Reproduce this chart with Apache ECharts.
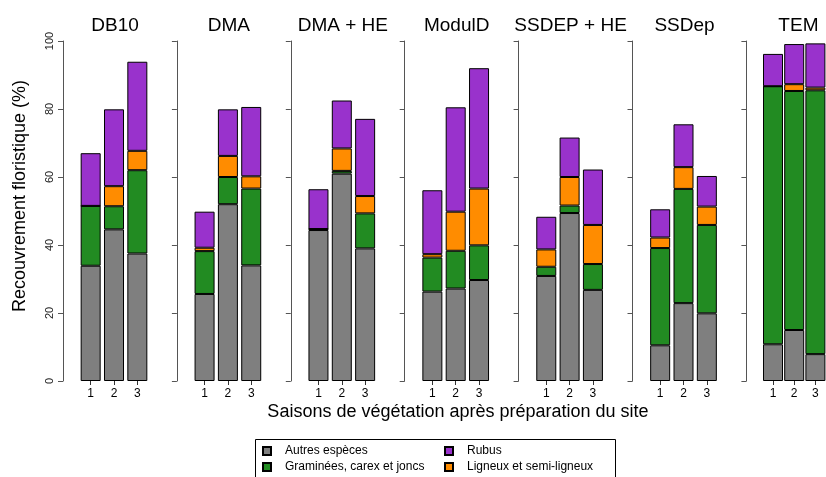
<!DOCTYPE html>
<html>
<head>
<meta charset="utf-8">
<script src="https://cdn.jsdelivr.net/npm/echarts@6/dist/echarts.min.js"></script>
<style>
  html, body { margin: 0; padding: 0; background: #fff; }
  #chart { width: 826px; height: 477px; }
</style>
</head>
<body>
<div id="chart"></div>
<script>
// facets and seasons
var panels = ['DB10', 'DMA', 'DMA + HE', 'ModulD', 'SSDEP + HE', 'SSDep', 'TEM'];
var seasons = ['1', '2', '3'];
var yTicks = [0, 20, 40, 60, 80, 100];

// cover (%) per group, one array of 3 seasons per facet
var autres = [
  [33.9, 44.6, 37.5], [25.6, 52.0, 34.0], [44.4, 61.0, 39.0], [26.3, 27.2, 29.7],
  [30.9, 49.4, 26.8], [10.5, 22.9, 19.9], [10.8, 15.0, 7.9]
];
var graminees = [
  [17.6, 6.8, 24.5], [12.6, 8.0, 22.6], [0.3, 0.8, 10.3], [10.0, 11.1, 10.2],
  [2.7, 2.2, 7.6], [28.6, 33.6, 26.0], [75.9, 70.3, 77.6]
];
var ligneux = [
  [0, 5.9, 5.7], [1.0, 6.2, 3.6], [0, 6.6, 5.1], [1.0, 11.5, 16.7],
  [5.1, 8.4, 11.5], [3.1, 6.4, 5.4], [0, 2.0, 0.8]
];
var rubus = [
  [15.5, 22.6, 26.2], [10.6, 13.7, 20.4], [11.7, 14.1, 22.7], [18.8, 30.7, 35.4],
  [9.6, 11.6, 16.3], [8.3, 12.6, 9.0], [9.5, 11.8, 13.0]
];

var groups = [
  { name: 'Autres espèces', color: '#7f7f7f', data: autres },
  { name: 'Graminées, carex et joncs', color: '#228b22', data: graminees },
  { name: 'Ligneux et semi-ligneux', color: '#ff8c00', data: ligneux },
  { name: 'Rubus', color: '#9932cc', data: rubus }
];

var font = 'Liberation Sans, Arial, Helvetica, sans-serif';
var step = 113.9;
var axis0 = 63;

var chart = echarts.init(document.getElementById('chart'));

var grids = [], xAxes = [], yAxes = [], titles = [], series = [];
panels.forEach(function(p, i) {
  var left = axis0 + 16 + step * i;
  grids.push({ left: left, top: 41, width: 70, height: 340 });
  titles.push({
    text: p, left: left + 31, top: 11, textAlign: 'center',
    textStyle: { fontFamily: font, fontSize: 19, fontWeight: 'normal', color: '#000' }
  });
  xAxes.push({
    type: 'category', gridIndex: i, data: seasons,
    axisLine: { show: false },
    axisTick: { show: true, alignWithLabel: true, length: 4, lineStyle: { color: '#333' } },
    axisLabel: { fontFamily: font, fontSize: 12, color: '#000', margin: 7 }
  });
  yAxes.push({
    type: 'value', gridIndex: i, min: 0, max: 100, interval: 20, offset: 16,
    axisLine: { show: true, lineStyle: { color: '#555', width: 1 } },
    axisTick: { show: true, length: 5, lineStyle: { color: '#555' } },
    splitLine: { show: false },
    axisLabel: {
      show: i === 0, rotate: 90, fontFamily: font, fontSize: 11, color: '#222', margin: 8,
      formatter: function(v) { return yTicks.indexOf(v) >= 0 ? String(v) : ''; }
    }
  });
  groups.forEach(function(g) {
    series.push({
      name: g.name, type: 'bar', stack: 'p' + i,
      xAxisIndex: i, yAxisIndex: i,
      barWidth: 20,
      data: g.data[i],
      itemStyle: { color: g.color, borderColor: '#000', borderWidth: 1 }
    });
  });
});

var legendBase = {
  orient: 'vertical', top: 444, height: 60, padding: 0,
  itemWidth: 8, itemHeight: 8, itemGap: 2,
  icon: 'rect',
  textStyle: { fontFamily: font, fontSize: 12, color: '#000', padding: [0, 0, 0, 9], lineHeight: 14 }
};

chart.setOption({
  animation: false,
  backgroundColor: '#fff',
  title: titles,
  grid: grids,
  xAxis: xAxes,
  yAxis: yAxes,
  series: series,
  legend: [
    Object.assign({ left: 262, data: ['Autres espèces', 'Graminées, carex et joncs'] }, legendBase),
    Object.assign({ left: 444, data: ['Rubus', 'Ligneux et semi-ligneux'] }, legendBase)
  ],
  graphic: [
    {
      type: 'rect', left: 253, top: 437,
      shape: { width: 360, height: 60 },
      style: { fill: 'none', stroke: '#000', lineWidth: 1 }
    },
    {
      type: 'text', x: 20, y: 196, rotation: Math.PI / 2,
      style: {
        text: 'Recouvrement floristique (%)', fontFamily: font, fontSize: 18,
        fill: '#000', textAlign: 'center', textVerticalAlign: 'middle'
      }
    },
    {
      type: 'text', x: 458, y: 412,
      style: {
        text: 'Saisons de végétation après préparation du site', fontFamily: font, fontSize: 18,
        fill: '#000', textAlign: 'center', textVerticalAlign: 'middle'
      }
    }
  ]
});
</script>
</body>
</html>
